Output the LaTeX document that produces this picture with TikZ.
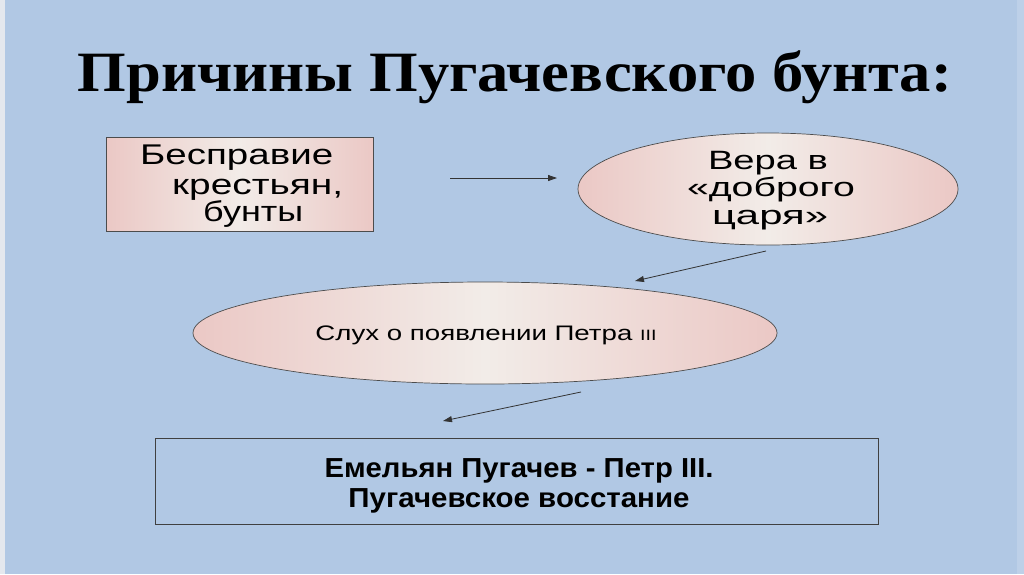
\documentclass[tikz,border=0pt]{standalone}
\usepackage{fontspec}
\setmainfont{Liberation Serif}
\newfontfamily\arialf{Liberation Sans}
\usepackage{graphicx}
\usetikzlibrary{shapes.geometric,arrows.meta}
\definecolor{bg}{HTML}{B1C8E4}
\definecolor{pinkL}{HTML}{EBC8C5}
\definecolor{pinkM}{HTML}{F2ECE8}
\definecolor{edgeL}{HTML}{E4E8EE}
\newcommand{\sw}[2]{\resizebox{#1}{\height}{#2}}
\begin{document}
\begin{tikzpicture}[x=1pt,y=-1pt,
  shaded/.style={draw=black!70, line width=0.7pt, left color=pinkL, right color=pinkL, middle color=pinkM},
  arr/.style={-{Triangle[length=9pt,width=6pt]}, draw=black!80, line width=0.8pt},
  txt/.style={inner sep=0pt, font=\arialf\fontsize{28.5}{28}\selectfont},
  txtb/.style={inner sep=0pt, font=\arialf\fontsize{26.5}{26}\selectfont},
  txtc/.style={inner sep=0pt, font=\arialf\fontsize{21}{21}\selectfont},
  txtd/.style={inner sep=0pt, font=\arialf\bfseries\fontsize{27.5}{27}\selectfont}]
\fill[bg] (0,0) rectangle (1024,574);
\fill[edgeL] (0,0) rectangle (5,574);
\fill[bg!85!white] (1017,0) rectangle (1024,574);
\useasboundingbox (0,0) rectangle (1024,574);

% title
\node[inner sep=0pt, anchor=base] (title) at (515,91)
  {\sw{874pt}{\fontsize{57}{60}\selectfont\bfseries Причины Пугачевского бунта:}};

% box 1
\node[shaded, rectangle, minimum width=267pt, minimum height=94pt, anchor=north west] (b1) at (106,137) {};
\node[txt, anchor=base west] (b1a) at (140,164) {\sw{193pt}{Бесправие}};
\node[txt, anchor=base west] (b1b) at (172,194) {\sw{171pt}{крестьян,}};
\node[txt, anchor=base west] (b1c) at (203,221) {\sw{100pt}{бунты}};

% ellipse 1
\node[shaded, ellipse, minimum width=380pt, minimum height=112pt] (e1) at (768,189) {};
\node[txtb, anchor=base] (e1a) at (768,169) {\sw{120pt}{Вера в}};
\node[txtb, anchor=base] (e1b) at (771,196) {\sw{168pt}{«доброго}};
\node[txtb, anchor=base] (e1c) at (770,224) {\sw{116pt}{царя»}};

% ellipse 2
\node[shaded, ellipse, minimum width=584pt, minimum height=102pt] (e2) at (485,333) {};
\node[txtc, anchor=base] (e2t) at (486,340)
  {\sw{341pt}{Слух о появлении Петра {\fontsize{15}{15}\selectfont III}}};

% box 3
\node[draw=black!75, line width=0.7pt, rectangle, minimum width=723pt, minimum height=86pt, anchor=north west] (b3) at (155,438) {};
\node[txtd, anchor=base] (b3a) at (519,477) {\sw{389pt}{Емельян Пугачев - Петр III.}};
\node[txtd, anchor=base] (b3b) at (519,507) {\sw{341pt}{Пугачевское восстание}};

% arrows
\coordinate (a1s) at (450,178);
\coordinate (a1e) at (557,178);
\coordinate (a2s) at (766,251);
\coordinate (a2e) at (635,281);
\coordinate (a3s) at (581,392);
\coordinate (a3e) at (443,421);
\draw[arr] (a1s) -- (a1e);
\draw[arr] (a2s) -- (a2e);
\draw[arr] (a3s) -- (a3e);
\end{tikzpicture}
\end{document}
